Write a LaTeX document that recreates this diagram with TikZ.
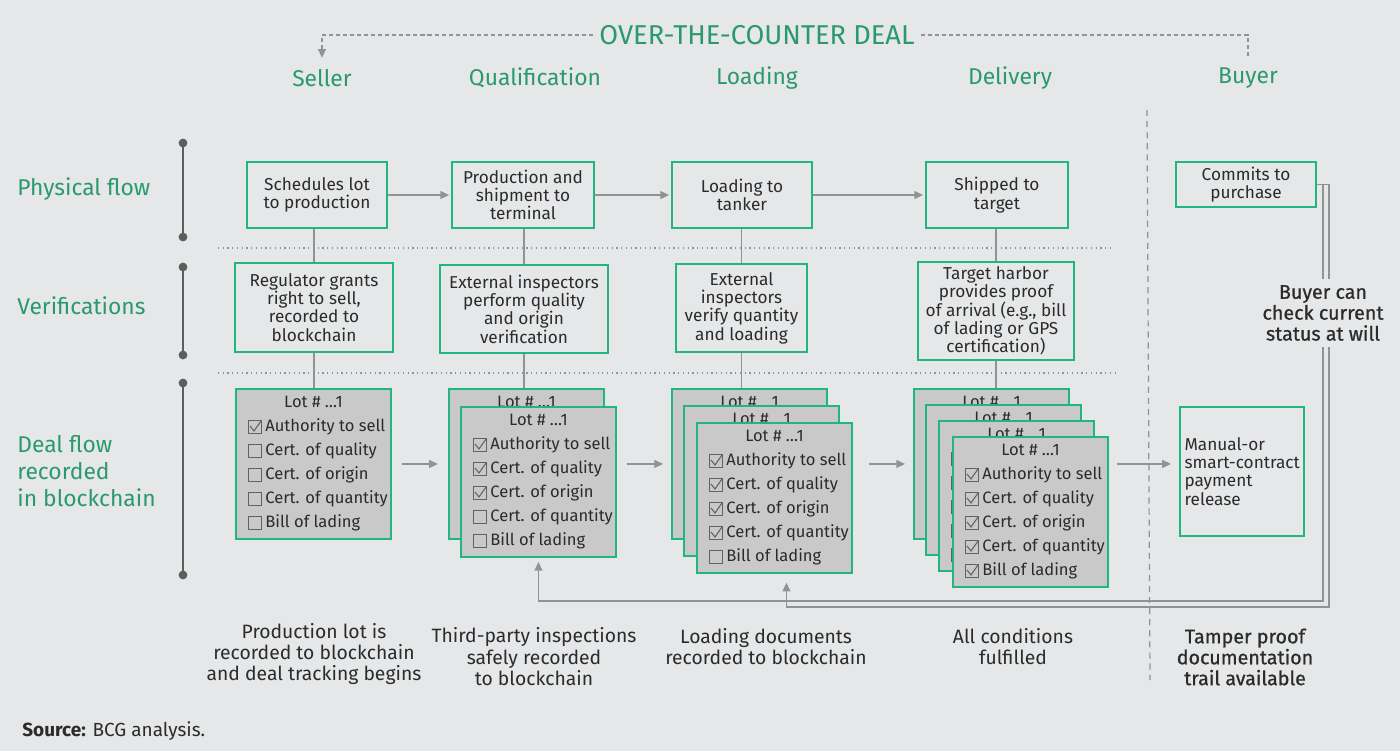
\documentclass[tikz,border=0pt]{standalone}
\usepackage{fontspec}
\setmainfont{Fira Sans}
\newfontfamily\medfont[FakeBold=0.8]{Fira Sans}
\usetikzlibrary{arrows.meta}
\usetikzlibrary{calc}
\definecolor{bgcol}{HTML}{E6E7E8}
\definecolor{bcggreen}{HTML}{22B67F}
\definecolor{labelgreen}{HTML}{2A9A6C}
\definecolor{lotgray}{HTML}{C9C9C9}
\definecolor{linegray}{HTML}{8F9393}
\definecolor{textdark}{HTML}{2B2B2B}
\definecolor{tickgray}{HTML}{5E6462}
\definecolor{dotgray}{HTML}{5A5F5D}
\newcommand{\fntbox}{\fontsize{9.8}{10.4}\selectfont}
\newcommand{\fntitem}{\fontsize{9.4}{11}\selectfont}
\newcommand{\fntrow}{\fontsize{13}{15.3}\selectfont}
\newcommand{\fnttitle}{\fontsize{15.5}{18}\selectfont}
\newcommand{\fntnote}{\fontsize{11}{12.2}\selectfont}
\newcommand{\fntbold}{\medfont\fontsize{11.2}{11.9}\selectfont}
\newcommand{\fntsrc}{\fontsize{10.8}{13}\selectfont}
\newcommand{\drawlot}[3]{
	\node (#2) at #1 [lot] {};
	\node at ($(#2.north)+(0,14)$) [lotitem] {Lot \# \ldots1};
	\foreach \lbl [count=\i] in {Authority to sell,Cert. of quality,Cert. of origin,Cert. of quantity,Bill of lading} {
		\node (#2b\i) at ($(#2.north west)+(20,15+24*\i)$) [tickbox] {};
		\node at ($(#2b\i.east)+(3,0)$) [lotitem,anchor=west] {\lbl};
		\ifnum\i>#3\relax\else
			\draw[tick] ($(#2b\i.center)+(-5,-1)$) -- ($(#2b\i.center)+(-1,4)$) -- ($(#2b\i.center)+(6,-6)$);
		\fi
	}
}

\begin{document}
\begin{tikzpicture}[x=0.02cm,y=-0.02cm,
	box/.style={draw=bcggreen,line width=1.3pt,align=center,font=\fntbox,text=textdark,inner sep=2pt},
	lot/.style={draw=bcggreen,fill=lotgray,line width=1.1pt,anchor=north west,minimum width=3.1cm,minimum height=3cm,inner sep=0pt},
	lotitem/.style={font=\fntitem,text=textdark,inner sep=0pt},
	tickbox/.style={draw=tickgray,line width=0.6pt,minimum size=0.26cm,inner sep=0pt},
	tick/.style={draw=tickgray,line width=0.6pt},
	link/.style={draw=linegray,line width=0.8pt},
	arr/.style={link,-{Triangle[length=5pt,width=4.5pt]}},
	otc/.style={draw=linegray,line width=0.7pt,dash pattern=on 2.3pt off 1.7pt},
	divider/.style={draw=linegray,line width=0.7pt,dash pattern=on 3.5pt off 2.8pt},
	sep/.style={draw=linegray,line width=0.7pt,dotted},
	timeline/.style={draw=dotgray,line width=1.1pt},
	rowlbl/.style={font=\fntrow,text=labelgreen,align=left,anchor=west,inner sep=0pt},
	colhd/.style={font=\fntrow,text=labelgreen},
	note/.style={font=\fntnote,text=textdark,align=center}]
	\fill[bgcol] (0,0) rectangle (1400,751);
	\useasboundingbox (0,0) rectangle (1400,751);

	\node (title) at (757,35) [font=\fnttitle,text=labelgreen] {OVER-THE-COUNTER DEAL};
	\foreach \n/\x/\t in {hdseller/322/Seller,hdqual/535/Qualification,hdload/757/Loading,hddeliv/1010/Delivery,hdbuyer/1248/Buyer}
		\node (\n) at (\x,78) [colhd] {\t};
	\draw[otc,-{Triangle[length=5pt,width=4.5pt]},shorten >=3pt] (title.west) -| (hdseller.north);
	\draw[otc,shorten >=3pt] (title.east) -| (hdbuyer.north);

	\node (rowphys) at (17,189) [rowlbl] {Physical flow};
	\node (rowverif) at (17,306) [rowlbl] {Verifications};
	\node (rowdeal) at (17,471) [rowlbl] {Deal flow\\recorded\\in blockchain};
	\foreach \a/\b in {143/237,267/355,383/575} {
		\draw[timeline] (183,\a) -- (183,\b);
		\fill[dotgray] (183,\a) circle (2.5pt) (183,\b) circle (2.5pt);
	}
	\draw[sep] (218,248) -- (1112,248);
	\draw[sep] (218,373) -- (1115,373);
	\coordinate (divtop) at (1147,110);
	\coordinate (divbot) at (1150,680);
	\draw[divider] (divtop) -- (divbot);

	\node (sched) at (317,195) [box,minimum width=2.8cm,minimum height=1.32cm] {Schedules lot\\to production};
	\node (prod) at (523,195) [box,minimum width=2.84cm,minimum height=1.32cm] {Production and\\shipment to\\terminal};
	\node (load) at (742,195) [box,minimum width=2.8cm,minimum height=1.32cm] {Loading to\\tanker};
	\node (ship) at (997,195) [box,minimum width=2.84cm,minimum height=1.32cm] {Shipped to\\target};
	\node (commit) at (1246,184.5) [box,minimum width=2.8cm,minimum height=0.9cm] {Commits to\\purchase};
	\foreach \a/\b in {sched/prod,prod/load,load/ship}
		\draw[arr,shorten >=1pt] (\a) -- (\b);

	\node (reg) at (314,307.5) [box,minimum width=3.16cm,minimum height=1.78cm] {Regulator grants\\right to sell,\\recorded to\\blockchain};
	\node (insp) at (524,309) [box,minimum width=3.36cm,minimum height=1.76cm] {External inspectors\\perform quality\\and origin\\verification};
	\node (verif) at (741.5,308) [box,minimum width=2.62cm,minimum height=1.76cm] {External\\inspectors\\verify quantity\\and loading};
	\node (harbor) at (996,311) [box,minimum width=3.12cm,minimum height=1.96cm] {Target harbor\\provides proof\\of arrival (e.g., bill\\of lading or GPS\\certification)};
	\foreach \a/\b in {sched/reg,prod/insp,load/verif,ship/harbor}
		\draw[link] (\b.north) -- (\b.north |- \a.south);

	\drawlot{(235,388)}{lotA1}{1}
	\drawlot{(448,388)}{lotB1}{1}
	\drawlot{(460,406)}{lotB2}{3}
	\drawlot{(671,388)}{lotC1}{1}
	\drawlot{(683,405)}{lotC2}{3}
	\drawlot{(696,422)}{lotC3}{4}
	\drawlot{(913,388)}{lotD1}{1}
	\drawlot{(925,404)}{lotD2}{3}
	\drawlot{(938,420)}{lotD3}{4}
	\drawlot{(952,436)}{lotD4}{5}
	\foreach \a/\b in {reg/lotA1,insp/lotB1,verif/lotC1,harbor/lotD1}
		\draw[link] (\a.south) -- (\a.south |- \b.north);

	\node (manual) at (1242,471.5) [box,align=left,text width=2.3cm,inner sep=0.09cm,minimum height=2.58cm] {Manual-or\\\mbox{smart-contract}\\payment\\release};

	\draw[arr,shorten <=5.7pt,shorten >=5.7pt] (lotA1.east) -- (lotA1.east -| lotB1.west);
	\draw[arr,shorten <=5.7pt,shorten >=4.5pt] (lotB1.east -| lotB2.east) -- (lotB1.east -| lotC1.west);
	\draw[arr,shorten <=9pt,shorten >=4.5pt] (lotC1.east -| lotC3.east) -- (lotC1.east -| lotD1.west);
	\draw[arr,shorten <=4.5pt,shorten >=4.5pt] (lotD1.east -| lotD4.east) -- (lotD1.east -| manual.west);

	\coordinate (fbA) at (1323,601);
	\coordinate (fbB) at (1329,607);
	\draw[arr,shorten >=2.3pt] (commit.east) -| (fbA) -| (lotB2.south);
	\draw[arr,shorten >=5pt] (commit.east) -| (fbB) -| ($(lotC3.south)+(12,0)$);
	\node (buyernote) at (1323,313) [note,font=\fntbold,fill=bgcol] {Buyer can\\check current\\status at will};

	\node (noteA) at (314,654) [note] {Production lot is\\recorded to blockchain\\and deal tracking begins};
	\node (noteB) at (534,657) [note] {Third-party inspections\\safely recorded\\to blockchain};
	\node (noteC) at (766,646.5) [note] {Loading documents\\recorded to blockchain};
	\node (noteD) at (1013,646.5) [note] {All conditions\\fulfilled};
	\node (noteE) at (1245,657) [note,font=\fntbold] {Tamper proof\\documentation\\trail available};
	\node (source) at (22,731) [anchor=west,inner sep=0pt,font=\fntsrc,text=textdark] {\textbf{Source:} BCG analysis.};
\end{tikzpicture}
\end{document}
